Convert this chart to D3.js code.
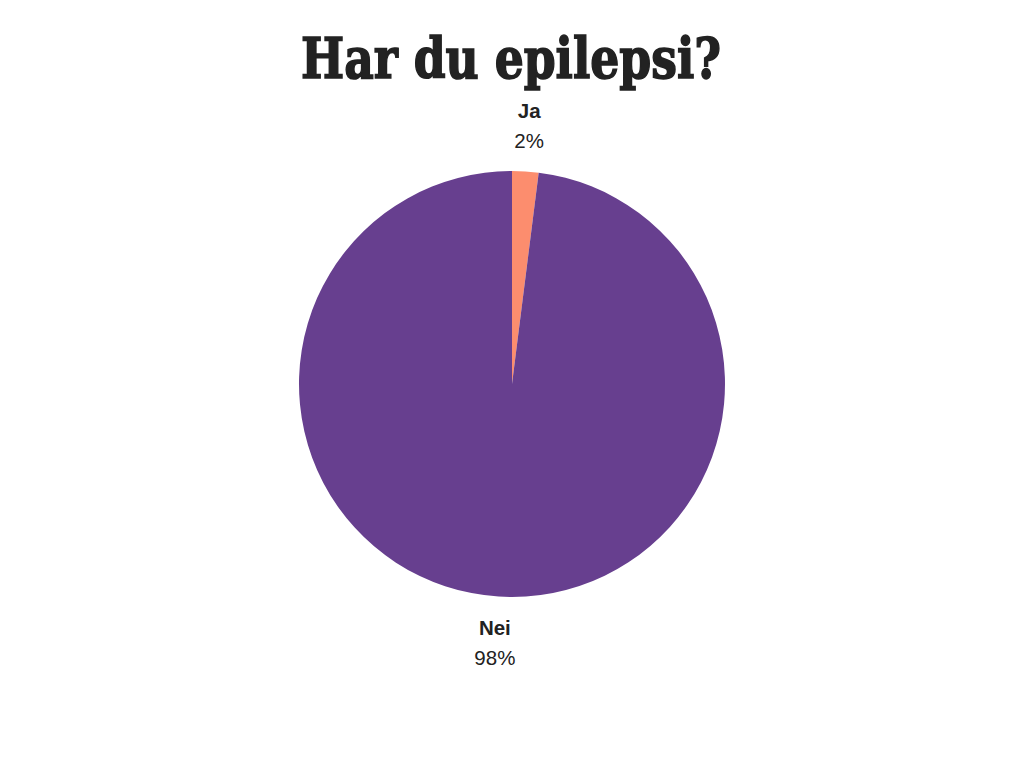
<!DOCTYPE html>
<html>
<head>
<meta charset="utf-8">
<script src="https://cdn.jsdelivr.net/npm/d3@7"></script>
<style>
body { margin: 0; background: #fff; }
</style>
</head>
<body>
<svg id="chart" width="1024" height="768"></svg>
<script>
"use strict"

// data
const categories = ["Ja", "Nei"];
const values = [2, 98];
const percentLabels = ["2%", "98%"];
const colors = ["#fc8d6e", "#673f8f"];

const svg = d3.select("#chart");
const cx = 512, cy = 384, radius = 213;

// title (heavy display serif is not installed, so thicken the bold serif a little)
svg.append("text")
    .attr("x", 511)
    .attr("y", 78)
    .attr("text-anchor", "middle")
    .attr("font-family", "'DejaVu Serif', serif")
    .attr("font-weight", "bold")
    .attr("font-size", 56)
    .attr("fill", "#222")
    .attr("stroke", "#222")
    .attr("stroke-width", 1.6)
    .attr("textLength", 420)
    .attr("lengthAdjust", "spacingAndGlyphs")
    .text("Har du epilepsi?");

const pie = d3.pie().sort(null).value(d => d);
const arcs = pie(values);
const arc = d3.arc().innerRadius(0).outerRadius(radius);

const g = svg.append("g").attr("transform", `translate(${cx},${cy})`);
g.selectAll("path")
    .data(arcs)
    .enter()
    .append("path")
    .attr("d", arc)
    .attr("fill", (d, i) => colors[i]);

// label positions: outside the pie, at the slice mid angle
const labelArc = d3.arc().innerRadius(radius + 60).outerRadius(radius + 60);
const labels = g.selectAll("g.label")
    .data(arcs)
    .enter()
    .append("g")
    .attr("class", "label")
    .attr("transform", (d, i) => {
        let [x, y] = labelArc.centroid(d);
        if (i == 0) { y = -266; }
        else { y = 251; }
        return `translate(${x},${y})`;
    });

labels.append("text")
    .attr("text-anchor", "middle")
    .attr("font-family", "'Liberation Sans', Arial, sans-serif")
    .attr("font-weight", "bold")
    .attr("font-size", 20.5)
    .attr("fill", "#222")
    .text((d, i) => categories[i]);

labels.append("text")
    .attr("y", 30)
    .attr("text-anchor", "middle")
    .attr("font-family", "'Liberation Sans', Arial, sans-serif")
    .attr("font-size", 20.5)
    .attr("fill", "#222")
    .text((d, i) => percentLabels[i]);
</script>
</body>
</html>
